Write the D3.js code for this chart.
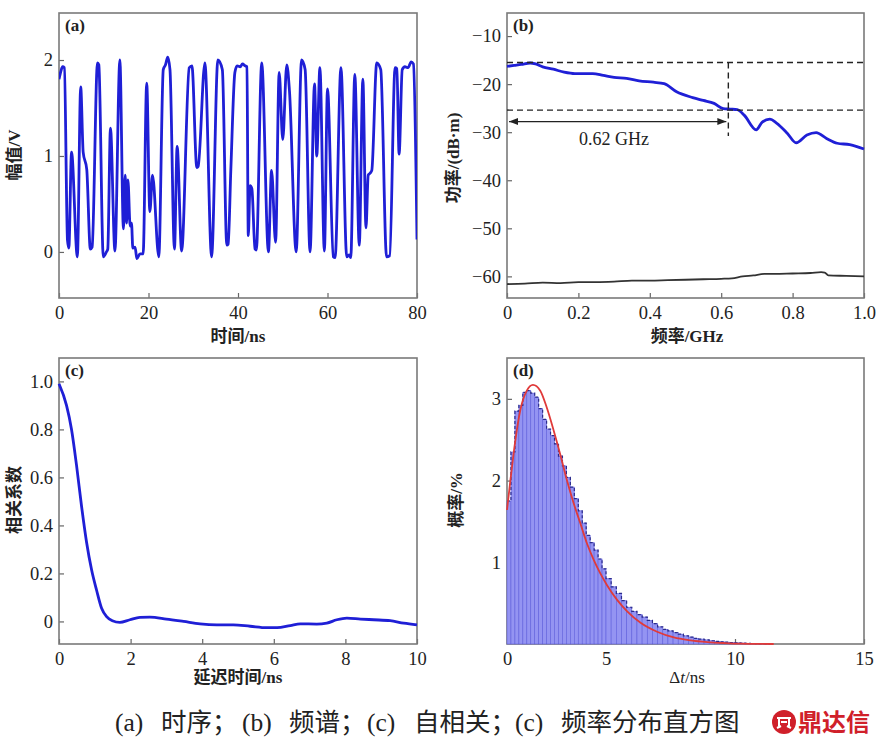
<!DOCTYPE html>
<html><head><meta charset="utf-8">
<script src="https://cdn.jsdelivr.net/npm/d3@7"></script>
<style>
body{margin:0;background:#fff;}
text{font-family:"Liberation Serif","Noto Sans CJK SC",serif;fill:#222;}
.ttl{font-weight:bold;}
</style></head>
<body><div id="chart"></div>
<script>
// ---------- (a) time series ----------
const waveT = [0,0.4,0.8,1.2,1.9,2.2,2.8,4.1,4.85,5.4,6.2,7.0,7.4,8.6,8.9,9.9,10.6,10.9,11.5,12.5,13.6,14.4,14.8,15.1,15.4,15.9,16.2,16.5,17.0,17.4,18.1,18.8,19.6,20.3,20.9,22.3,23.3,23.8,24.3,24.8,25.8,26.4,27.4,29.1,29.7,30.8,31.1,32.6,34.1,35.5,36.5,37.5,37.8,38.4,39.3,39.8,40.5,41.0,41.6,42.0,42.3,42.7,43.1,43.8,44.1,45.3,46.8,47.5,48.4,49.2,50.0,50.9,51.5,53.0,54.2,55.0,56.1,57.1,57.6,58.3,59.3,60.0,61.3,61.7,63.0,64.3,64.8,65.2,66.1,67.1,67.9,68.6,69.1,69.5,69.9,71.0,71.9,73.2,73.9,75.1,75.5,76.0,76.7,77.3,78.0,78.7,79.2,80.0];
const waveV = [1.80,1.88,1.93,1.92,0.12,0.04,1.04,-0.05,1.72,1.04,0.86,0.03,0.05,1.97,1.95,-0.05,0.0,0.03,1.29,0.01,2.0,0.24,0.80,0.30,0.75,0.27,0.30,0.04,0.05,-0.07,-0.02,-0.02,1.76,0.42,0.80,-0.05,1.90,1.95,2.03,1.90,0.03,1.10,0.01,1.92,1.94,0.88,0.89,1.97,-0.05,2.00,1.90,0.07,0.08,0.86,1.87,1.94,1.93,1.96,1.94,1.93,0.17,0.69,0.66,0.03,0.02,1.97,0.0,0.85,0.10,1.87,1.17,1.95,1.68,0.0,2.00,1.90,0.0,1.75,1.00,1.92,0.01,1.70,-0.05,-0.06,1.92,-0.05,-0.03,-0.06,1.85,0.07,1.80,0.25,0.80,0.82,0.85,1.97,1.90,-0.05,-0.04,1.92,1.91,1.02,1.90,1.93,1.92,1.98,1.96,0.13];
const aTicksX = [0,20,40,60,80];
const aTicksY = [0,1,2];

// ---------- (b) spectrum ----------
const specF  = [0,0.02,0.04,0.065,0.08,0.1,0.13,0.16,0.19,0.215,0.24,0.27,0.3,0.335,0.37,0.41,0.44,0.475,0.52,0.55,0.58,0.606,0.625,0.645,0.665,0.698,0.715,0.736,0.755,0.785,0.81,0.84,0.866,0.895,0.925,0.96,0.98,1.0];
const specDb = [-16.3,-16.1,-15.9,-15.6,-15.8,-16.4,-16.9,-17.5,-17.8,-17.8,-17.8,-18.2,-18.6,-18.8,-19.3,-19.6,-19.9,-21.6,-22.8,-23.4,-24.0,-25.1,-25.2,-25.3,-26.5,-29.5,-27.9,-27.3,-28.1,-30.2,-32.2,-30.6,-30.1,-31.3,-32.3,-32.6,-33.0,-33.5];
const noiseF  = [0,0.05,0.1,0.15,0.2,0.25,0.3,0.35,0.4,0.45,0.5,0.55,0.6,0.63,0.66,0.69,0.72,0.75,0.8,0.85,0.88,0.89,0.9,0.95,1.0];
const noiseDb = [-61.6,-61.5,-61.3,-61.4,-61.2,-61.2,-61.1,-60.9,-60.9,-60.8,-60.7,-60.6,-60.5,-60.4,-60.0,-59.8,-59.5,-59.5,-59.4,-59.3,-59.1,-59.2,-59.8,-59.9,-60.0];
const bTicksX = [0,0.2,0.4,0.6,0.8,1.0];
const bTicksY = [-60,-50,-40,-30,-20,-10];
const bw3dB = [-15.5,-25.4];   // dashed reference levels
const bwF = 0.62;               // bandwidth marker
const bwArrowDb = -27.8;

// ---------- (c) autocorrelation ----------
const acfLag = [0,0.21,0.35,0.49,0.63,0.77,0.91,1.05,1.19,1.33,1.49,1.7,1.98,2.26,2.54,3.0,3.48,3.94,4.41,4.87,5.34,5.8,6.09,6.46,6.74,7.2,7.48,7.76,8.04,8.42,8.79,9.25,9.63,10];
const acfR   = [0.99,0.90,0.80,0.65,0.48,0.33,0.215,0.13,0.055,0.02,0.003,-0.004,0.007,0.017,0.018,0.01,0.0,-0.01,-0.014,-0.014,-0.02,-0.026,-0.026,-0.017,-0.01,-0.011,-0.007,0.007,0.014,0.01,0.007,0.003,-0.007,-0.014];
const cTicksX = [0,2,4,6,8,10];
const cTicksY = [0,0.2,0.4,0.6,0.8,1.0];

// ---------- (d) histogram ----------
const binStart = [0,0.2,0.4,0.6,0.8,1.0,1.2,1.4,1.6,1.8,2.0,2.2,2.4,2.6,2.8,3.0,3.2,3.4,3.6,3.8,4.0,4.2,4.4,4.6,4.8,5.0,5.2,5.4,5.6,5.8,6.0,6.2,6.4,6.6,6.8,7.0,7.2,7.4,7.6,7.8,8.0,8.2,8.4,8.6,8.8,9.0,9.2,9.4,9.6,9.8,10.0,10.2,10.4,10.6,10.8,11.0,11.2];
const binProb  = [1.75,2.35,2.85,2.92,3.08,3.10,3.07,3.02,2.88,2.75,2.63,2.55,2.45,2.30,2.18,2.04,1.92,1.78,1.63,1.48,1.33,1.24,1.15,1.04,0.92,0.80,0.70,0.62,0.53,0.45,0.40,0.36,0.33,0.29,0.25,0.21,0.18,0.16,0.14,0.12,0.10,0.085,0.07,0.06,0.05,0.04,0.033,0.027,0.022,0.018,0.014,0.011,0.008,0.006,0.004,0.003,0.002];
const binWidth = 0.2;
const fitT = [0,0.17,0.42,0.67,1.0,1.31,1.68,2.0,2.36,2.7,3.03,3.37,3.7,4.04,4.38,4.7,5.04,5.43,5.82,6.34,6.98,7.63,8.28,8.93,9.57,10.2,11.5];
const fitP = [1.64,2.0,2.49,2.86,3.1,3.17,3.1,2.9,2.61,2.31,2.0,1.72,1.48,1.23,1.03,0.87,0.72,0.54,0.40,0.26,0.15,0.08,0.045,0.024,0.012,0.004,0.0];
const dTicksX = [0,5,10,15];
const dTicksY = [1,2,3];

const caption = [["(a)",115],["时序；",161],["(b)",242],["频谱；",289],["(c)",367],["自相关；",414],["(c)",515],["频率分布直方图",561]];

// ================= drawing =================
const svg = d3.select("#chart").append("svg").attr("width",884).attr("height",748);
const BLUE = "#1f1fd6";

function frame(p){
  const g = svg.append("g");
  const ax = g.append("g").attr("transform",`translate(0,${p.bottom})`)
    .call(d3.axisBottom(p.x).tickValues(p.xt).tickSize(-5).tickPadding(8).tickFormat(p.xf));
  const ay = g.append("g").attr("transform",`translate(${p.left},0)`)
    .call(d3.axisLeft(p.y).tickValues(p.yt).tickSize(-5).tickPadding(6).tickFormat(p.yf));
  [ax,ay].forEach(a=>{
    a.select(".domain").remove();
    a.selectAll(".tick line").attr("stroke","#666").attr("stroke-width",1.2);
    a.selectAll("text").attr("font-size",18.5).attr("font-family","Liberation Serif").attr("fill","#222");
  });
  g.append("rect").attr("x",p.left).attr("y",p.top).attr("width",p.right-p.left).attr("height",p.bottom-p.top)
    .attr("fill","none").attr("stroke","#7a7a7a").attr("stroke-width",1.6);
  g.append("text").attr("x",p.left+6).attr("y",p.top+18).attr("font-size",17).attr("font-weight","bold").text(p.tag);
  return g;
}
function clip(id,l,t,r,b){
  svg.append("clipPath").attr("id",id).append("rect").attr("x",l).attr("y",t).attr("width",r-l).attr("height",b-t);
}
const fmtDash = d => (d<0?"\u2212":"")+Math.abs(d);

// ---- (a)
{
  const L=59,R=417,T=13,B=298;
  const x=d3.scaleLinear().domain([0,80]).range([L,R]);
  const y=d3.scaleLinear().domain([-0.48,2.49]).range([B,T]);
  frame({x,y,left:L,right:R,top:T,bottom:B,xt:aTicksX,yt:aTicksY,xf:d3.format("d"),yf:d3.format("d"),tag:"(a)"});
  clip("ca",L,T,R,B);
  const pts = waveT.map((t,i)=>[t,waveV[i]]);
  svg.append("path").attr("clip-path","url(#ca)").attr("d",d3.line().x(d=>x(d[0])).y(d=>y(d[1])).curve(d3.curveMonotoneX)(pts))
    .attr("fill","none").attr("stroke",BLUE).attr("stroke-width",2.8).attr("stroke-linejoin","round");
  svg.append("text").attr("class","ttl").attr("x",238).attr("y",342).attr("text-anchor","middle").attr("font-size",17).text("时间/ns");
  svg.append("text").attr("class","ttl").attr("transform","translate(20,155) rotate(-90)").attr("text-anchor","middle").attr("font-size",17).text("幅值/V");
}
// ---- (b)
{
  const L=507,R=864,T=13,B=298;
  const x=d3.scaleLinear().domain([0,1]).range([L,R]);
  const y=d3.scaleLinear().domain([-64.5,-5.2]).range([B,T]);
  frame({x,y,left:L,right:R,top:T,bottom:B,xt:bTicksX,yt:bTicksY,xf:d=>d===0?"0":d3.format(".1f")(d),yf:fmtDash,tag:"(b)"});
  const line=d3.line().x(d=>x(d[0])).y(d=>y(d[1])).curve(d3.curveMonotoneX);
  svg.append("path").attr("d",line(noiseF.map((f,i)=>[f,noiseDb[i]])))
    .attr("fill","none").attr("stroke","#333").attr("stroke-width",1.8);
  svg.append("path").attr("d",line(specF.map((f,i)=>[f,specDb[i]])))
    .attr("fill","none").attr("stroke",BLUE).attr("stroke-width",2.8);
  bw3dB.forEach(v=>{
    svg.append("line").attr("x1",x(0)).attr("x2",x(1)).attr("y1",y(v)).attr("y2",y(v))
      .attr("stroke","#222").attr("stroke-width",1.4).attr("stroke-dasharray","6,4");
  });
  svg.append("line").attr("x1",x(bwF)).attr("x2",x(bwF)).attr("y1",y(bw3dB[0])).attr("y2",y(-30.8))
    .attr("stroke","#222").attr("stroke-width",1.4).attr("stroke-dasharray","6,4");
  const ay=y(bwArrowDb), x0=x(0)+2, x1=x(bwF)-2;
  svg.append("line").attr("x1",x0).attr("x2",x1).attr("y1",ay).attr("y2",ay).attr("stroke","#222").attr("stroke-width",1.4);
  svg.append("path").attr("d",`M${x0},${ay}l9,-3.5v7z M${x1},${ay}l-9,-3.5v7z`).attr("fill","#222");
  svg.append("text").attr("x",x(0.30)).attr("y",y(-32.6)).attr("text-anchor","middle").attr("font-size",18).text("0.62 GHz");
  svg.append("text").attr("class","ttl").attr("x",687).attr("y",342).attr("text-anchor","middle").attr("font-size",17).text("频率/GHz");
  svg.append("text").attr("class","ttl").attr("transform","translate(459,158) rotate(-90)").attr("text-anchor","middle").attr("font-size",17).text("功率/(dB·m)");
}
// ---- (c)
{
  const L=59,R=417,T=358,B=644;
  const x=d3.scaleLinear().domain([0,10]).range([L,R]);
  const y=d3.scaleLinear().domain([-0.094,1.0975]).range([B,T]);
  frame({x,y,left:L,right:R,top:T,bottom:B,xt:cTicksX,yt:cTicksY,xf:d3.format("d"),yf:d=>d===0?"0":d3.format(".1f")(d),tag:"(c)"});
  svg.append("path").attr("d",d3.line().x(d=>x(d[0])).y(d=>y(d[1])).curve(d3.curveMonotoneX)(acfLag.map((l,i)=>[l,acfR[i]])))
    .attr("fill","none").attr("stroke",BLUE).attr("stroke-width",2.8);
  svg.append("text").attr("class","ttl").attr("x",238).attr("y",683).attr("text-anchor","middle").attr("font-size",17).text("延迟时间/ns");
  svg.append("text").attr("class","ttl").attr("transform","translate(20,500) rotate(-90)").attr("text-anchor","middle").attr("font-size",17).text("相关系数");
}
// ---- (d)
{
  const L=507,R=864,T=358,B=644;
  const x=d3.scaleLinear().domain([0,5,15]).range([L,606,R]);
  const y=d3.scaleLinear().domain([0,3.5]).range([B,T]);
  frame({x,y,left:L,right:R,top:T,bottom:B,xt:dTicksX,yt:dTicksY,xf:d3.format("d"),yf:d3.format("d"),tag:"(d)"});
  const bars = binStart.map((s,i)=>({s,p:binProb[i]}));
  svg.append("g").selectAll("rect").data(bars).join("rect")
    .attr("x",d=>x(d.s)).attr("width",d=>x(d.s+binWidth)-x(d.s))
    .attr("y",d=>y(d.p)).attr("height",d=>B-y(d.p))
    .attr("fill","#9494f2").attr("stroke","#6060dc").attr("stroke-width",0.6);
  const step = [];
  bars.forEach(d=>{step.push([d.s,d.p]);step.push([d.s+binWidth,d.p]);});
  svg.append("path").attr("d",d3.line().x(d=>x(d[0])).y(d=>y(d[1]))(step))
    .attr("fill","none").attr("stroke","#2b2b8c").attr("stroke-width",1.2).attr("stroke-dasharray","3,2");
  svg.append("path").attr("d",d3.line().x(d=>x(d[0])).y(d=>y(d[1])).curve(d3.curveMonotoneX)(fitT.map((t,i)=>[t,fitP[i]])))
    .attr("fill","none").attr("stroke","#e03a3a").attr("stroke-width",1.8);
  const t=svg.append("text").attr("x",687).attr("y",683).attr("text-anchor","middle").attr("font-size",17);
  t.append("tspan").text("Δ"); t.append("tspan").attr("font-style","italic").text("t"); t.append("tspan").text("/ns");
  svg.append("text").attr("class","ttl").attr("transform","translate(462,500) rotate(-90)").attr("text-anchor","middle").attr("font-size",17).text("概率/%");
}
// ---- caption
{
  const ct = svg.append("text").attr("y",731).attr("font-size",25.5);
  caption.forEach(([s,xp])=>ct.append("tspan").attr("x",xp).text(s));
  const lg = svg.append("g").attr("transform","translate(784,722)");
  lg.append("circle").attr("r",12).attr("fill","#d0202a");
  lg.append("path").attr("d","M-7,-4h14M-5,-4v8M5,-4v8M-3,0h6M-7,6l4,-2M7,6l-4,-2").attr("stroke","#fff").attr("stroke-width",2).attr("fill","none");
  svg.append("text").attr("x",798).attr("y",731).attr("font-size",24).attr("font-weight","bold")
    .style("fill","#d0202a").attr("font-family","Noto Sans CJK SC").text("鼎达信");
}
</script></body></html>
